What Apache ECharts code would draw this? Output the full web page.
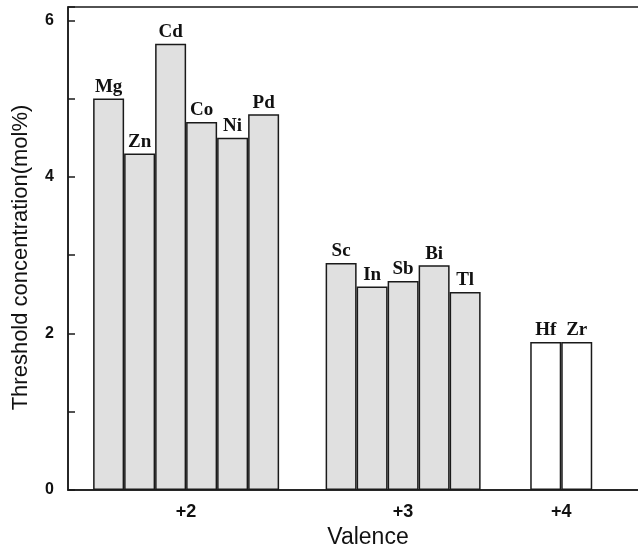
<!DOCTYPE html>
<html>
<head>
<meta charset="utf-8">
<script src="https://cdn.jsdelivr.net/npm/echarts@6/dist/echarts.min.js"></script>
<style>html,body{margin:0;padding:0;background:#fff}#c{width:638px;height:548px}</style>
</head>
<body>
<div id="c"></div>
<script>
// Data
const elements = ['Mg','Zn','Cd','Co','Ni','Pd','Sc','In','Sb','Bi','Tl','Hf','Zr'];
const thresholds = [5.0, 4.3, 5.7, 4.7, 4.5, 4.8, 2.9, 2.6, 2.67, 2.87, 2.53, 1.89, 1.89];
const positions = [1, 2, 3, 4, 5, 6, 8.5, 9.5, 10.5, 11.5, 12.5, 15.1, 16.1];
const valences = [2, 2, 2, 2, 2, 2, 3, 3, 3, 3, 3, 4, 4];
const valenceLabels = ['+2', '+3', '+4'];
const valencePositions = [3.5, 10.5, 15.6];
const yTicks = [0, 2, 4, 6];

const fillByValence = {2: '#e0e0e0', 3: '#e0e0e0', 4: '#ffffff'};

const chart = echarts.init(document.getElementById('c'), null, {renderer: 'canvas'});
const barData = elements.map((name, i) => ({
  name: name,
  value: [positions[i], thresholds[i]],
  itemStyle: {color: fillByValence[valences[i]]}
}));

chart.setOption({
  animation: false,
  backgroundColor: '#ffffff',
  grid: {left: 68, top: 7, right: -6, bottom: 58, outerBoundsMode: 'none', containLabel: false,
    show: true, borderColor: '#1a1a1a', borderWidth: 1.5, backgroundColor: 'transparent'},
  xAxis: {
    type: 'value', min: -0.31, max: 18.27,
    splitLine: {show: false},
    axisLine: {show: true, onZero: false, lineStyle: {color: '#1a1a1a', width: 1.5}},
    axisTick: {show: false},
    axisLabel: {
      customValues: valencePositions,
      formatter: v => {
        const k = valencePositions.findIndex(p => Math.abs(p - v) < 1e-6);
        return k >= 0 ? valenceLabels[k] : '';
      },
      color: '#111', fontFamily: 'Liberation Sans, Arial, sans-serif', fontWeight: 'bold', fontSize: 18, margin: 13
    },
    name: 'Valence', nameLocation: 'middle', nameGap: 36,
    nameTextStyle: {color: '#111', fontFamily: 'Liberation Sans, Arial, sans-serif', fontSize: 23, padding: [0, 0, 0, 24]}
  },
  yAxis: {
    type: 'value', min: 0, max: 6.17, interval: 1,
    splitLine: {show: false},
    axisLine: {show: true, onZero: false, lineStyle: {color: '#1a1a1a', width: 1.5}},
    axisTick: {show: true, inside: true, length: 7, lineStyle: {color: '#1a1a1a', width: 1.5}},
    axisLabel: {
      formatter: v => (yTicks.indexOf(v) >= 0 ? String(v) : ''),
      color: '#111', fontFamily: 'Liberation Sans, Arial, sans-serif', fontWeight: 'bold', fontSize: 16, margin: 14
    },
    name: 'Threshold concentration(mol%)', nameLocation: 'middle', nameGap: 36,
    nameTextStyle: {color: '#111', fontFamily: 'Liberation Sans, Arial, sans-serif', fontSize: 22, padding: [0, 18, 0, 0]}
  },
  series: [{
    type: 'bar',
    data: barData,
    barWidth: 31,
    itemStyle: {borderColor: '#1a1a1a', borderWidth: 1.5},
    label: {
      show: true, position: 'top', distance: 2,
      formatter: p => p.name,
      color: '#111', fontFamily: 'Liberation Serif, Times New Roman, serif', fontWeight: 'bold', fontSize: 19
    }
  }]
});
</script>
</body>
</html>
